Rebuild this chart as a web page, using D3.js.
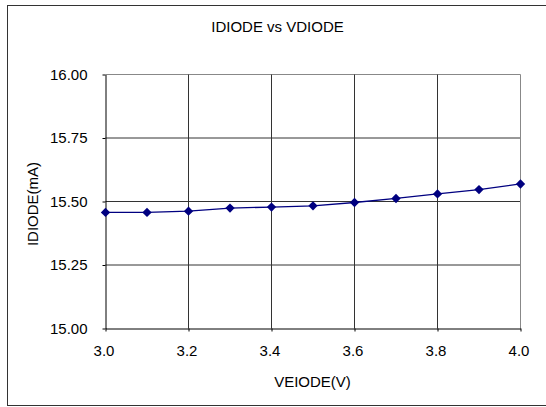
<!DOCTYPE html>
<html>
<head>
<meta charset="utf-8">
<script src="https://cdn.jsdelivr.net/npm/d3@7"></script>
<style>
  body { margin: 0; background: #fff; }
  text { font-family: Arial, "Liberation Sans", sans-serif; fill: #000; }
</style>
</head>
<body>
<script>
const voltages = [3.0, 3.1, 3.2, 3.3, 3.4, 3.5, 3.6, 3.7, 3.8, 3.9, 4.0];
const currents = [15.457, 15.457, 15.462, 15.474, 15.478, 15.483, 15.496, 15.512, 15.530, 15.547, 15.569];
const xTicks = [3.0, 3.2, 3.4, 3.6, 3.8, 4.0];
const yTicks = [15.00, 15.25, 15.50, 15.75, 16.00];

const width = 546, height = 407;
const plotLeft = 105.5, plotRight = 520.5, plotTop = 74.5, plotBottom = 328.5;

const svg = d3.select('body').append('svg')
  .attr('width', width)
  .attr('height', height);

// outer chart frame
svg.append('rect')
  .attr('x', 7.5).attr('y', 5.5)
  .attr('width', 560).attr('height', 400)
  .attr('fill', '#fff').attr('stroke', '#333').attr('stroke-width', 1);

const x = d3.scaleLinear().domain([3.0, 4.0]).range([plotLeft, plotRight]);
const y = d3.scaleLinear().domain([15.0, 16.0]).range([plotBottom, plotTop]);

// gridlines
svg.append('g').selectAll('line')
  .data(yTicks.slice(1))
  .enter().append('line')
  .attr('x1', plotLeft).attr('x2', plotRight)
  .attr('y1', d => y(d)).attr('y2', d => y(d))
  .attr('stroke', d => d === 16 ? '#888' : '#333');

svg.append('g').selectAll('line')
  .data(xTicks.slice(1))
  .enter().append('line')
  .attr('x1', d => x(d)).attr('x2', d => x(d))
  .attr('y1', plotTop).attr('y2', plotBottom)
  .attr('stroke', d => d === 4 ? '#888' : '#333');

// axes
const xAxis = svg.append('g')
  .attr('transform', 'translate(0,' + plotBottom + ')')
  .call(d3.axisBottom(x).tickValues(xTicks).tickFormat(d3.format('.1f'))
    .tickSizeInner(3).tickSizeOuter(0).tickPadding(14));
const yAxis = svg.append('g')
  .attr('transform', 'translate(' + plotLeft + ',0)')
  .call(d3.axisLeft(y).tickValues(yTicks).tickFormat(d3.format('.2f'))
    .tickSizeInner(3).tickSizeOuter(0).tickPadding(15));

[xAxis, yAxis].forEach(a => {
  a.select('.domain').attr('stroke', '#000');
  a.selectAll('.tick line').attr('stroke', '#000');
  a.selectAll('text').style('font-size', '15px').attr('fill', '#000');
});
xAxis.selectAll('text').attr('dx', '-2px');

// series
const line = d3.line()
  .x((d, i) => x(voltages[i]))
  .y(d => y(d));

svg.append('path')
  .datum(currents)
  .attr('d', line)
  .attr('fill', 'none')
  .attr('stroke', '#000080')
  .attr('stroke-width', 1.3);

svg.append('g').selectAll('path')
  .data(currents)
  .enter().append('path')
  .attr('transform', (d, i) => 'translate(' + x(voltages[i]) + ',' + y(d) + ')')
  .attr('d', d3.symbol().type(d3.symbolDiamond2).size(56))
  .attr('fill', '#000080');

// titles
svg.append('text')
  .attr('x', 277.5).attr('y', 32)
  .attr('text-anchor', 'middle')
  .style('font-size', '15px')
  .text('IDIODE vs VDIODE');

svg.append('text')
  .attr('x', 312.5).attr('y', 387)
  .attr('text-anchor', 'middle')
  .style('font-size', '15px')
  .text('VEIODE(V)');

svg.append('text')
  .attr('transform', 'translate(38,204) rotate(-90)')
  .attr('text-anchor', 'middle')
  .style('font-size', '15px')
  .text('IDIODE(mA)');
</script>
</body>
</html>
